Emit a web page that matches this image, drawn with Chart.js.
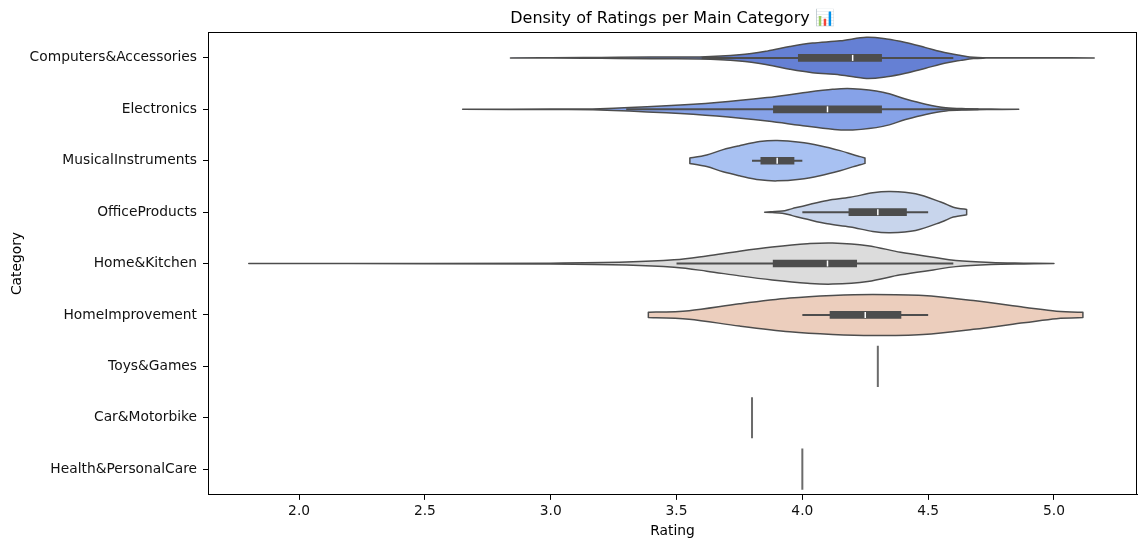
<!DOCTYPE html>
<html>
<head>
<meta charset="utf-8">
<script src="https://cdn.jsdelivr.net/npm/chart.js@4.4.1/dist/chart.umd.min.js"></script>
<style>
  body { margin: 0; background: #fff; }
  #chart { display: block; }
</style>
</head>
<body>
<canvas id="chart" width="1147" height="547"></canvas>
<script>
const categories = ['Computers&Accessories', 'Electronics', 'MusicalInstruments', 'OfficeProducts',
    'Home&Kitchen', 'HomeImprovement', 'Toys&Games', 'Car&Motorbike', 'Health&PersonalCare'];

// violin outline: rating grid and relative density (1 = widest point)
const violinRatings = [
    [2.84, 3.00, 3.20, 3.40, 3.593, 3.75, 3.86, 3.95, 4.04, 4.15, 4.255, 4.335, 4.41, 4.49, 4.57, 4.63, 4.68, 4.73, 4.85, 5.00, 5.16],
    [2.65, 3.00, 3.196, 3.46, 3.66, 3.86, 3.99, 4.12, 4.20, 4.32, 4.41, 4.49, 4.57, 4.65, 4.75, 4.86],
    [3.553, 3.62, 3.685, 3.75, 3.83, 3.90, 3.99, 4.07, 4.15, 4.20, 4.23, 4.249],
    [3.85, 3.88, 3.92, 3.96, 4.02, 4.10, 4.19, 4.28, 4.35, 4.45, 4.55, 4.60, 4.653],
    [1.80, 2.50, 3.00, 3.30, 3.49, 3.62, 3.75, 3.88, 4.02, 4.12, 4.26, 4.39, 4.52, 4.61, 4.75, 4.88, 5.00],
    [3.388, 3.55, 3.75, 3.95, 4.12, 4.28, 4.48, 4.68, 4.88, 5.01, 5.115],
    [4.30],
    [3.80],
    [4.00]
];
const violinDensity = [
    [0, 0.005, 0.02, 0.04, 0.05, 0.15, 0.33, 0.55, 0.72, 0.83, 1.00, 0.92, 0.75, 0.50, 0.25, 0.12, 0.03, 0.01, 0.005, 0.01, 0],
    [0, 0.01, 0.03, 0.17, 0.33, 0.57, 0.78, 0.97, 1.00, 0.83, 0.50, 0.25, 0.08, 0.03, 0.01, 0],
    [0.13, 0.28, 0.54, 0.73, 0.93, 0.98, 0.90, 0.73, 0.49, 0.30, 0.20, 0.13],
    [0, 0.02, 0.05, 0.17, 0.35, 0.57, 0.72, 0.94, 1.00, 0.89, 0.49, 0.24, 0.13],
    [0, 0.005, 0.02, 0.07, 0.18, 0.37, 0.60, 0.80, 0.96, 1.00, 0.87, 0.55, 0.31, 0.15, 0.05, 0.02, 0],
    [0.13, 0.21, 0.54, 0.82, 0.95, 1.00, 0.95, 0.70, 0.38, 0.18, 0.13],
    [1],
    [1],
    [1]
];

// inner box stats
const q1 = [3.984, 3.885, 3.835, 4.185, 3.884, 4.11, null, null, null];
const medians = [4.20, 4.10, 3.90, 4.30, 4.10, 4.25, null, null, null];
const q3 = [4.315, 4.315, 3.967, 4.414, 4.216, 4.392, null, null, null];
const whiskerLow = [3.60, 3.30, 3.80, 4.00, 3.50, 4.00, null, null, null];
const whiskerHigh = [4.60, 4.70, 4.00, 4.50, 4.60, 4.50, null, null, null];

const fillColors = ['#6580d4', '#86a2e8', '#a8c1f2', '#c8d5ec', '#dcdcdc', '#eccebd', '#f0b9a0', '#e08a70', '#c44a44'];
const xTicks = [2.0, 2.5, 3.0, 3.5, 4.0, 4.5, 5.0];

Chart.defaults.font.family = "'DejaVu Sans', sans-serif";
Chart.defaults.color = '#111';

const EDGE = '#4d4d4d';

function smoothPath(ctx, pts, start) {
    if (start) ctx.moveTo(pts[0].x, pts[0].y); else ctx.lineTo(pts[0].x, pts[0].y);
    for (let i = 0; i < pts.length - 1; i++) {
        const p0 = pts[i - 1] || pts[i];
        const p1 = pts[i];
        const p2 = pts[i + 1];
        const p3 = pts[i + 2] || p2;
        ctx.bezierCurveTo(
            p1.x + (p2.x - p0.x) / 6, p1.y + (p2.y - p0.y) / 6,
            p2.x - (p3.x - p1.x) / 6, p2.y - (p3.y - p1.y) / 6,
            p2.x, p2.y);
    }
}

const violinPlugin = {
    id: 'violins',
    beforeDatasetsDraw(chart) {
        const ctx = chart.ctx;
        const xs = chart.scales.x, ys = chart.scales.y;
        const band = Math.abs(ys.getPixelForValue(1) - ys.getPixelForValue(0));
        const half = band * 0.4;
        ctx.save();
        ctx.beginPath();
        ctx.rect(chart.chartArea.left, chart.chartArea.top, chart.chartArea.width, chart.chartArea.height);
        ctx.clip();
        categories.forEach((cat, i) => {
            const cy = ys.getPixelForValue(i);
            const r = violinRatings[i], d = violinDensity[i];
            if (r.length === 1) {
                const px = xs.getPixelForValue(r[0]);
                ctx.beginPath();
                ctx.moveTo(px, cy - half * d[0]);
                ctx.lineTo(px, cy + half * d[0]);
                ctx.strokeStyle = '#6b6b6b';
                ctx.lineWidth = 2;
                ctx.stroke();
                return;
            }
            const top = r.map((v, k) => ({ x: xs.getPixelForValue(v), y: cy - half * d[k] }));
            const bottom = r.map((v, k) => ({ x: xs.getPixelForValue(v), y: cy + half * d[k] })).reverse();
            ctx.beginPath();
            smoothPath(ctx, top, true);
            smoothPath(ctx, bottom, false);
            ctx.closePath();
            ctx.fillStyle = fillColors[i];
            ctx.fill();
            ctx.lineJoin = 'round';
            ctx.strokeStyle = EDGE;
            ctx.lineWidth = 1.5;
            ctx.stroke();

            if (whiskerLow[i] != null) {
                ctx.beginPath();
                ctx.moveTo(xs.getPixelForValue(whiskerLow[i]), cy);
                ctx.lineTo(xs.getPixelForValue(whiskerHigh[i]), cy);
                ctx.strokeStyle = EDGE;
                ctx.lineWidth = 2;
                ctx.stroke();
            }
        });
        ctx.restore();
    },
    afterDatasetsDraw(chart) {
        const ctx = chart.ctx;
        const xs = chart.scales.x, ys = chart.scales.y;
        ctx.save();
        medians.forEach((m, i) => {
            if (m == null) return;
            const px = xs.getPixelForValue(m);
            const cy = ys.getPixelForValue(i);
            ctx.beginPath();
            ctx.moveTo(px, cy - 3);
            ctx.lineTo(px, cy + 3);
            ctx.strokeStyle = '#ffffff';
            ctx.lineWidth = 1.5;
            ctx.stroke();
        });
        ctx.restore();
    },
    afterDraw(chart) {
        const ctx = chart.ctx;
        const a = chart.chartArea;
        ctx.save();
        ctx.strokeStyle = '#000';
        ctx.lineWidth = 1;
        ctx.strokeRect(Math.round(a.left) + 0.5, Math.round(a.top) + 0.5,
            Math.round(a.right - a.left) - 1, Math.round(a.bottom - a.top) - 1);
        ctx.restore();
    }
};

new Chart(document.getElementById('chart'), {
    type: 'bar',
    data: {
        labels: categories,
        datasets: [{
            label: 'IQR',
            data: categories.map((c, i) => q1[i] == null ? null : [q1[i], q3[i]]),
            backgroundColor: EDGE,
            borderWidth: 0,
            barThickness: 7
        }]
    },
    options: {
        indexAxis: 'y',
        responsive: false,
        animation: false,
        devicePixelRatio: 1,
        layout: { padding: { left: 8, right: 10, top: 4, bottom: 7 } },
        plugins: {
            legend: { display: false },
            tooltip: { enabled: false },
            title: {
                display: true,
                fullSize: false,
                text: 'Density of Ratings per Main Category \uD83D\uDCCA',
                font: { size: 16, weight: 'normal' },
                color: '#000',
                padding: { top: 5, bottom: 4 }
            }
        },
        scales: {
            x: {
                type: 'linear',
                min: 1.638,
                max: 5.33,
                afterBuildTicks: axis => { axis.ticks = xTicks.map(v => ({ value: v })); },
                ticks: {
                    font: { size: 13.8 },
                    color: '#111',
                    padding: 3,
                    maxRotation: 0,
                    callback: v => Number(v).toFixed(1)
                },
                grid: { drawOnChartArea: false, drawTicks: true, tickLength: 5, tickColor: '#000' },
                border: { display: true, color: '#000' },
                title: { display: true, text: 'Rating', font: { size: 13.8 }, color: '#000', padding: { top: 1, bottom: 0 } }
            },
            y: {
                type: 'category',
                offset: true,
                afterFit: axis => { axis.width = 200; },
                ticks: { font: { size: 13.8 }, color: '#111', padding: 6 },
                grid: { offset: false, drawOnChartArea: false, drawTicks: true, tickLength: 5, tickColor: '#000' },
                border: { display: true, color: '#000' },
                title: { display: true, text: 'Category', font: { size: 13.8 }, color: '#000', padding: { top: 1, bottom: 0 } }
            }
        }
    },
    plugins: [violinPlugin]
});
</script>
</body>
</html>
